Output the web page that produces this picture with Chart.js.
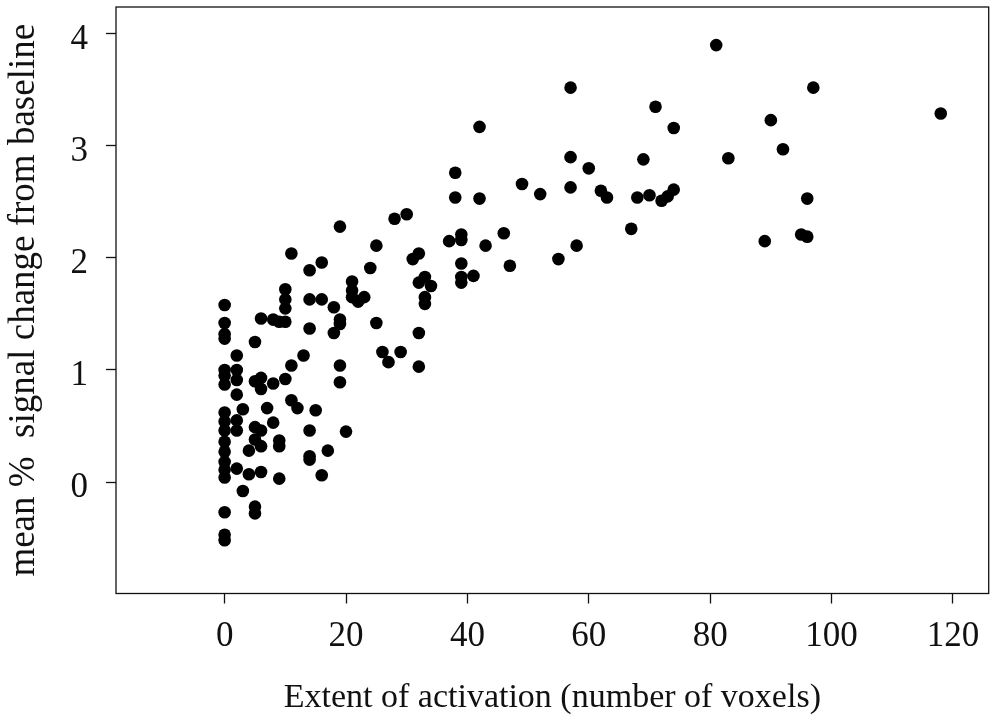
<!DOCTYPE html>
<html>
<head>
<meta charset="utf-8">
<script src="https://cdn.jsdelivr.net/npm/chart.js@4"></script>
<style>
html,body{margin:0;padding:0;background:#fff;}
#c{display:block;}
</style>
</head>
<body>
<canvas id="c" width="995" height="722"></canvas>
<script>
// Extent of activation (number of voxels)
const xValues = [
  0,0,0,0,0,0,0,0,0,0,0,0,0,0,0,0,0,0,
  2,2,2,2,2,2,2,
  3,3,
  4,4,
  5,5,5,5,5,5,
  6,6,6,6,6,6,
  7,
  8,8,8,
  9,9,9,9,
  10,10,10,10,10,
  11,11,11,
  12,
  13,
  14,14,14,14,14,14,
  15,
  16,16,16,
  17,
  18,18,
  19,19,19,19,19,
  20,
  21,21,21,
  22,
  23,
  24,
  25,25,
  26,
  27,
  28,
  29,
  30,
  31,
  32,32,32,32,
  33,33,33,
  34,
  37,
  38,38,
  39,39,39,39,39,
  41,
  42,42,
  43,
  46,
  47,
  49,
  52,
  55,
  57,57,57,
  58,
  60,
  62,
  63,
  67,
  68,
  69,
  70,
  71,
  72,
  73,
  74,74,
  81,
  83,
  89,
  90,
  92,
  95,
  96,96,
  97,
  118
];
// mean % signal change from baseline
const yValues = [
  1.58,1.42,1.32,1.28,1.00,0.95,0.87,0.62,0.54,0.46,0.36,0.27,0.18,0.11,0.04,-0.27,-0.47,-0.52,
  1.13,1.00,0.91,0.78,0.55,0.46,0.12,
  0.65,-0.08,
  0.28,0.07,
  1.25,0.90,0.49,0.38,-0.22,-0.28,
  1.46,0.93,0.83,0.46,0.32,0.09,
  0.66,
  1.45,0.88,0.53,
  1.43,0.37,0.32,0.03,
  1.72,1.63,1.55,1.43,0.92,
  2.04,1.04,0.73,
  0.66,
  1.13,
  1.89,1.63,1.37,0.46,0.23,0.20,
  0.64,
  1.96,1.63,0.06,
  0.28,
  1.56,1.33,
  2.28,1.45,1.41,1.04,0.89,
  0.45,
  1.79,1.71,1.65,
  1.61,
  1.65,
  1.91,
  2.11,1.42,
  1.16,
  1.07,
  2.35,
  1.16,
  2.39,
  1.99,
  2.04,1.78,1.33,1.03,
  1.83,1.65,1.59,
  1.75,
  2.15,
  2.76,2.54,
  2.21,2.16,1.95,1.83,1.78,
  1.84,
  3.17,2.53,
  2.11,
  2.22,
  1.93,
  2.66,
  2.57,
  1.99,
  3.52,2.90,2.63,
  2.11,
  2.80,
  2.60,
  2.54,
  2.26,
  2.54,
  2.88,
  2.56,
  3.35,
  2.51,
  2.55,
  3.16,2.61,
  3.90,
  2.89,
  2.15,
  3.23,
  2.97,
  2.21,
  2.53,2.19,
  3.52,
  3.29
];
const xTicks = [0, 20, 40, 60, 80, 100, 120];
const yTicks = [0, 1, 2, 3, 4];
const xTitle = "Extent of activation (number of voxels)";
const yTitle = "mean %  signal change from baseline";

const points = xValues.map((x, i) => ({ x: x, y: yValues[i] }));

const FONT = "'Liberation Serif', 'Times New Roman', serif";
const INK = '#111';

const boxPlugin = {
  id: 'box',
  afterDraw(chart) {
    const a = chart.chartArea;
    const ctx = chart.ctx;
    ctx.save();
    ctx.strokeStyle = INK;
    ctx.lineWidth = 1.3;
    ctx.strokeRect(a.left, a.top, a.right - a.left, a.bottom - a.top);
    ctx.restore();
  }
};

new Chart(document.getElementById('c'), {
  type: 'scatter',
  data: {
    datasets: [{
      data: points,
      pointRadius: 6.3,
      pointHoverRadius: 6.3,
      pointBackgroundColor: '#000',
      pointBorderColor: '#000',
      pointBorderWidth: 0
    }]
  },
  options: {
    responsive: false,
    animation: false,
    devicePixelRatio: 1,
    layout: { padding: { top: 7, right: 4, left: 0, bottom: 0 } },
    plugins: { legend: { display: false }, tooltip: { enabled: false } },
    scales: {
      x: {
        type: 'linear',
        min: -17.9,
        max: 125.9,
        afterFit(s) { s.height = 128.5; s.paddingLeft = 0; s.paddingRight = 0; },
        afterBuildTicks(s) { s.ticks = xTicks.map(v => ({ value: v })); },
        border: { display: false },
        grid: { display: true, drawOnChartArea: false, drawTicks: true, tickLength: 10, tickColor: INK, tickWidth: 1.3 },
        ticks: { color: INK, font: { family: FONT, size: 35 }, padding: 12, maxRotation: 0, includeBounds: false },
        title: { display: true, text: xTitle, color: INK, font: { family: FONT, size: 34 }, padding: { top: 0, bottom: 4 } }
      },
      y: {
        type: 'linear',
        min: -0.995,
        max: 4.24,
        afterFit(s) { s.width = 116; s.paddingTop = 0; s.paddingBottom = 0; },
        afterBuildTicks(s) { s.ticks = yTicks.map(v => ({ value: v })); },
        border: { display: false },
        grid: { display: true, drawOnChartArea: false, drawTicks: true, tickLength: 10, tickColor: INK, tickWidth: 1.3 },
        ticks: { color: INK, font: { family: FONT, size: 35 }, padding: 18, labelOffset: 6, includeBounds: false },
        title: { display: true, text: yTitle, color: INK, font: { family: FONT, size: 37 }, padding: { top: 2, bottom: 0 } }
      }
    }
  },
  plugins: [boxPlugin]
});
</script>
</body>
</html>
